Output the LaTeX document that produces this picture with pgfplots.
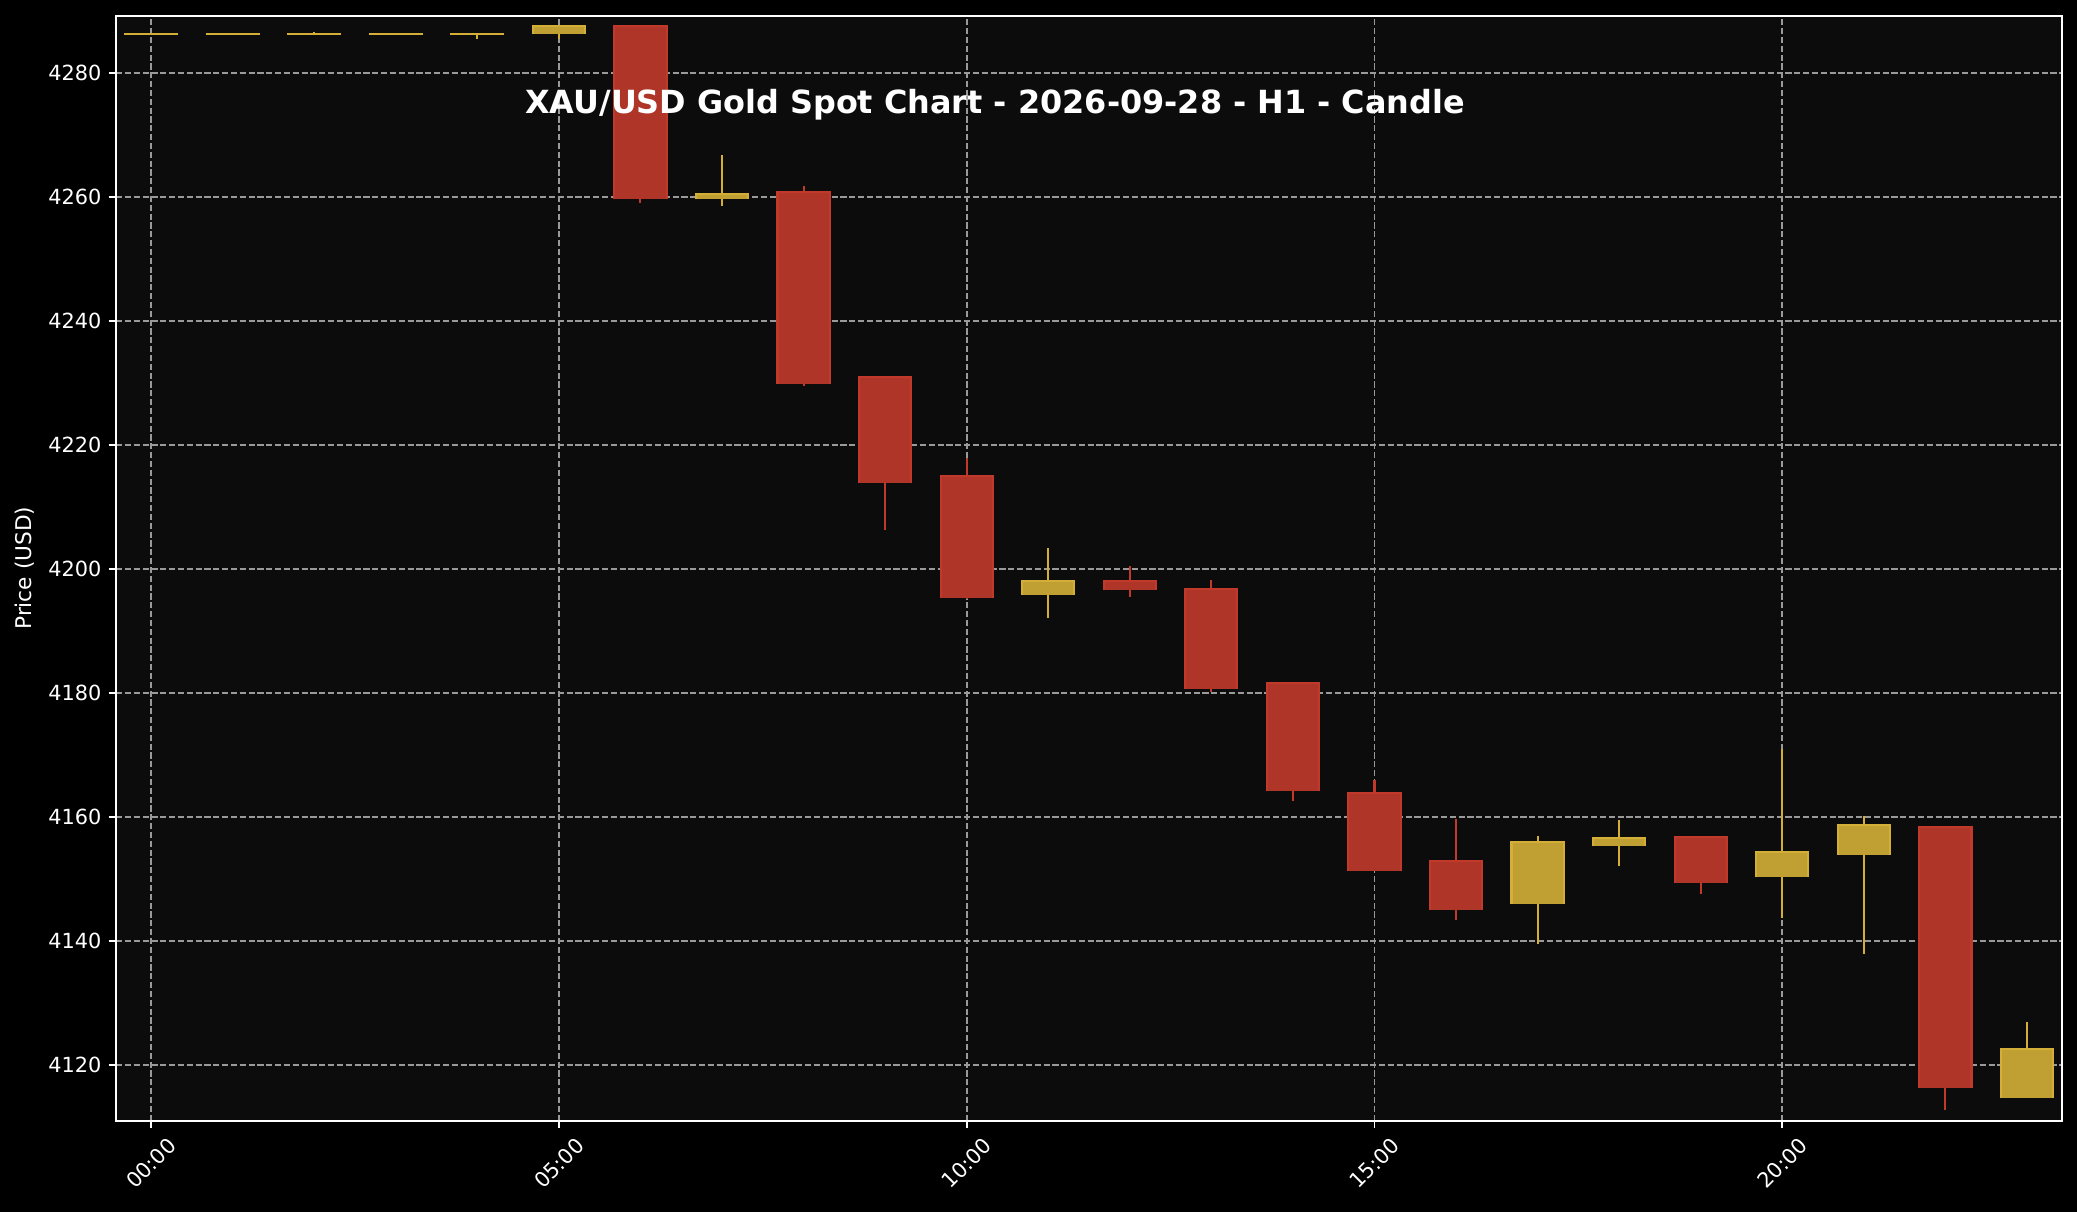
\documentclass[border=0pt]{standalone}
\usepackage{fontspec}
\setmainfont{DejaVu Sans}
\usepackage{pgfplots}
\usepackage{pgfplotstable}
\pgfplotsset{compat=1.18}
\definecolor{bullc}{HTML}{D4AF37}
\definecolor{bullf}{HTML}{C09F33}
\definecolor{bearc}{HTML}{C0392B}
\definecolor{bearf}{HTML}{AE3528}
\definecolor{axbg}{HTML}{0C0C0C}
\definecolor{gridc}{HTML}{9A9A9A}
% hour open high low close
\pgfplotstableread{
x o h l c
0 4286.3 4286.3 4286.3 4286.3
1 4286.3 4286.3 4286.3 4286.3
2 4286.3 4286.6 4286.3 4286.3
3 4286.3 4286.3 4286.3 4286.3
4 4286.3 4286.3 4285.4 4286.3
5 4286.2 4287.5 4285.4 4287.5
7 4259.6 4266.7 4258.5 4260.4
11 4195.8 4203.3 4192.1 4198.0
17 4146.0 4156.9 4139.5 4155.9
18 4155.2 4159.5 4152.05 4156.5
20 4150.2 4170.9 4143.6 4154.3
21 4153.9 4160.1 4137.9 4158.6
23 4114.7 4126.9 4114.7 4122.6
}\bulltab
\pgfplotstableread{
x o h l c
6 4287.5 4287.5 4259.0 4259.7
8 4260.7 4261.7 4229.5 4229.8
9 4230.9 4230.9 4206.2 4213.9
10 4214.95 4217.9 4195.1 4195.3
12 4198.0 4200.4 4195.5 4196.6
13 4196.8 4198.2 4180.2 4180.6
14 4181.5 4181.5 4162.6 4164.2
15 4163.9 4165.9 4151.3 4151.3
16 4152.8 4159.6 4143.4 4145.0
19 4156.7 4156.9 4147.6 4149.35
22 4158.3 4158.5 4112.7 4116.3
}\beartab
\pgfplotsset{
  wick/.style={draw=none, mark=none, forget plot,
    error bars/.cd, y dir=plus, y explicit, error mark=none,
    error bar style={draw=#1, line width=1pt, solid}},
  bodyout/.style={draw=none, mark=none, forget plot,
    error bars/.cd, y dir=plus, y explicit, error mark=none,
    error bar style={draw=#1, line width=26.05pt, solid, line cap=butt}},
  bodyin/.style 2 args={draw=none, mark=none, forget plot,
    error bars/.cd, y dir=plus, y explicit, error mark=|,
    error mark options={draw=#1, line width=1pt, mark size=13.02pt, solid},
    error bar style={draw=#2, line width=24.05pt, solid, line cap=butt}},
}
\begin{document}
\begin{tikzpicture}
\path[use as bounding box, fill=black] (0,0) rectangle (997pt,581.76pt);
\begin{axis}[
  at={(55.7pt,43.8pt)}, anchor=south west,
  width=934.1pt, height=530.4pt, scale only axis,
  xmin=-0.43, xmax=23.43, ymin=4110.97, ymax=4289.2,
  axis background/.style={fill=axbg},
  axis line style={draw=white, line width=0.8pt},
  xtick={0,5,10,15,20}, xticklabels={00:00,05:00,10:00,15:00,20:00},
  ytick={4120,4140,...,4280},
  grid=major,
  major grid style={draw=gridc, line width=0.8pt, dash pattern=on 2.96pt off 1.28pt},
  tick align=outside, tick pos=left, major tick length=3.5pt,
  every tick/.style={draw=white, line width=0.8pt},
  /pgf/number format/assume math mode=true,
  /pgf/number format/1000 sep={},
  ticklabel style={font=\fontsize{10}{12}\selectfont, text=white},
  xticklabel shift=16.9pt,
  xticklabel style={rotate=45, anchor=center},
  yticklabel style={anchor=east},
  ylabel={Price (USD)},
  ylabel style={at={(axis description cs:-0.0471,0.5)}, anchor=center, text=white, font=\fontsize{10.4}{12}\selectfont},
  title={XAU/USD Gold Spot Chart - 2026-09-28 - H1 - Candle},
  title style={at={(axis description cs:0.4517,0.9118)}, anchor=base, yshift=-6pt, text=white, font=\bfseries\fontsize{15.3}{18}\selectfont},
]
% wicks
\addplot[wick=bullc] table[x=x, y=l, y error expr=\thisrow{h}-\thisrow{l}] {\bulltab};
\addplot[wick=bearc] table[x=x, y=l, y error expr=\thisrow{h}-\thisrow{l}] {\beartab};
% bodies
\addplot[bodyout=bullc] table[x=x, y expr={min(\thisrow{o},\thisrow{c})}, y error expr={abs(\thisrow{c}-\thisrow{o})}] {\bulltab};
\addplot[bodyin={bullc}{bullf}] table[x=x, y expr={min(\thisrow{o},\thisrow{c})}, y error expr={abs(\thisrow{c}-\thisrow{o})}] {\bulltab};
\addplot[bodyout=bearc] table[x=x, y expr={min(\thisrow{o},\thisrow{c})}, y error expr={abs(\thisrow{c}-\thisrow{o})}] {\beartab};
\addplot[bodyin={bearc}{bearf}] table[x=x, y expr={min(\thisrow{o},\thisrow{c})}, y error expr={abs(\thisrow{c}-\thisrow{o})}] {\beartab};
\end{axis}
\end{tikzpicture}
\end{document}
